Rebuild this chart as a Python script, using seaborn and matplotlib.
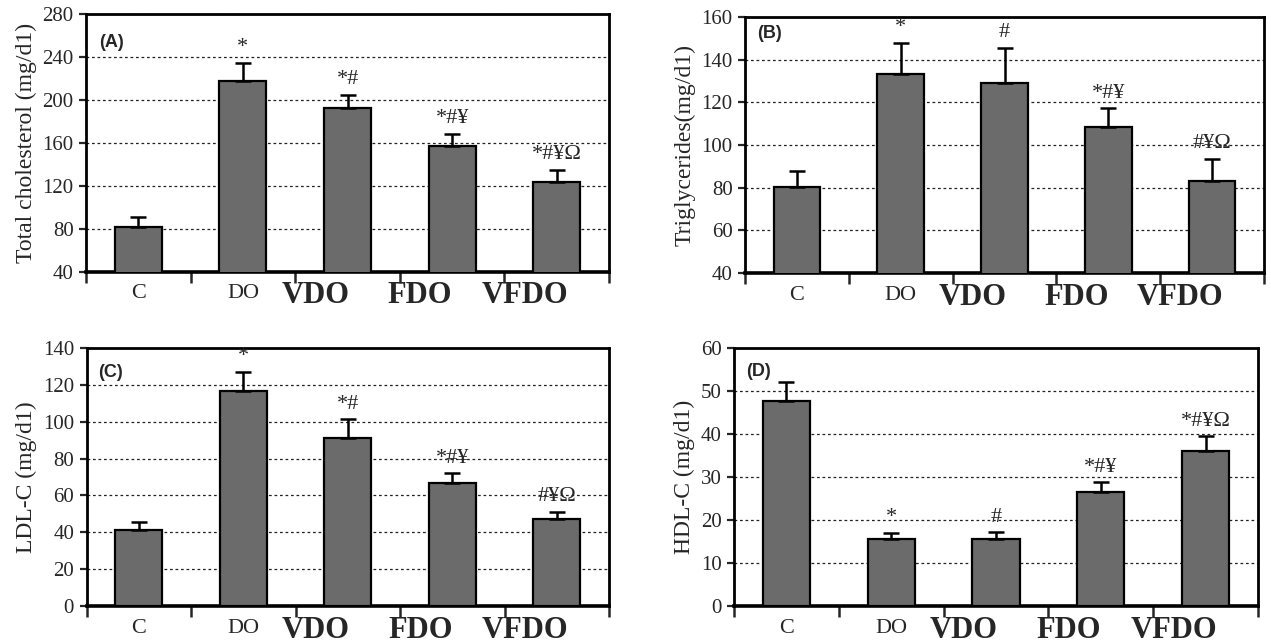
import matplotlib
matplotlib.use("Agg")
import matplotlib.pyplot as plt
import matplotlib.transforms as mtransforms
import numpy as np
import pandas as pd
import seaborn as sns

groups = ["C", "DO", "VDO", "FDO", "VFDO"]

tc_mean = [81.5, 218, 192.5, 157.5, 123.5]
tc_err = [9.5, 16.5, 12.5, 11, 11.5]
tc_sig = ["", "*", "*#", "*#¥", "*#¥Ω"]

tg_mean = [80.5, 133.5, 129, 108.5, 83]
tg_err = [7.5, 14.5, 16.5, 8.7, 10.6]
tg_sig = ["", "*", "#", "*#¥", "#¥Ω"]

ldl_mean = [41.5, 116.5, 91, 66.5, 47]
ldl_err = [4.2, 10.5, 10.3, 5.6, 4.2]
ldl_sig = ["", "*", "*#", "*#¥", "#¥Ω"]

hdl_mean = [47.6, 15.5, 15.5, 26.6, 36.1]
hdl_err = [4.6, 1.6, 1.7, 2.2, 3.4]
hdl_sig = ["", "*", "#", "*#¥", "*#¥Ω"]

panels = [
    ("(A)", "Total cholesterol (mg/d1)", tc_mean, tc_err, tc_sig, (40, 280), 40),
    ("(B)", "Triglycerides(mg/d1)", tg_mean, tg_err, tg_sig, (40, 160), 20),
    ("(C)", "LDL-C (mg/d1)", ldl_mean, ldl_err, ldl_sig, (0, 140), 20),
    ("(D)", "HDL-C (mg/d1)", hdl_mean, hdl_err, hdl_sig, (0, 60), 10),
]

positions = [
    [0.0677, 0.5770, 0.4115, 0.4012],
    [0.5862, 0.5754, 0.4083, 0.3981],
    [0.0681, 0.0575, 0.4111, 0.4012],
    [0.5775, 0.0575, 0.4123, 0.4012],
]
label_pos = [(0.025, 0.888), (0.023, 0.9375), (0.022, 0.907), (0.024, 0.91)]

sns.set_style("ticks")
plt.rcParams["font.family"] = ["Liberation Serif", "DejaVu Serif"]
plt.rcParams["axes.linewidth"] = 2

fig = plt.figure(figsize=(12.71, 6.43), dpi=100)
bar_color = "#6b6b6b"

for (plabel, ylabel, means, errs, sigs, ylim, step), pos, lp in zip(panels, positions, label_pos):
    ax = fig.add_axes(pos)
    df = pd.DataFrame({"group": groups, "value": means})
    sns.barplot(data=df, x="group", y="value", color=bar_color, saturation=1,
                edgecolor="black", linewidth=1.6, width=0.45, ax=ax, zorder=3)
    xs = np.arange(len(groups))
    ax.errorbar(xs, means, yerr=[np.zeros(len(errs)), errs], fmt="none",
                ecolor="black", elinewidth=1.8, capsize=5.5, capthick=1.8, zorder=4)
    for x, m, e, s in zip(xs, means, errs, sigs):
        if s:
            ax.annotate(s, xy=(x, m + e), xytext=(0, 4), textcoords="offset points",
                        ha="center", va="bottom", fontsize=16, zorder=5)
    ax.set_ylim(*ylim)
    ax.set_yticks(np.arange(ylim[0], ylim[1] + step / 2, step))
    ax.set_xlim(-0.5, len(groups) - 0.5)
    ax.yaxis.grid(True, linestyle=(0, (2.2, 2.2)), color="#222222", linewidth=0.9, zorder=0)
    ax.set_axisbelow(True)
    for sp in ax.spines.values():
        sp.set_visible(True)
        sp.set_color("black")
        sp.set_linewidth(2)
    ax.spines["bottom"].set_linewidth(2.6)
    ax.tick_params(axis="y", direction="out", length=5, width=1.6, labelsize=15, pad=4)
    ax.set_xticks(xs)
    ax.set_xticklabels(groups)
    ax.set_xticks(np.arange(-0.5, len(groups), 1.0), minor=True)
    ax.tick_params(axis="x", which="major", length=0, pad=9)
    ax.tick_params(axis="x", which="minor", direction="out", length=8, width=1.8)
    ax.set_xlabel("")
    ax.set_ylabel(ylabel, fontsize=17, labelpad=4)
    for i, lab in enumerate(ax.get_xticklabels()):
        if i < 2:
            lab.set_fontsize(16)
        else:
            lab.set_fontsize(22)
            lab.set_fontweight("bold")
            off = mtransforms.ScaledTranslation(-0.32, 0.03, fig.dpi_scale_trans)
            lab.set_transform(lab.get_transform() + off)
    ax.text(lp[0], lp[1], plabel, transform=ax.transAxes, fontsize=13,
            fontweight="bold", family=["Liberation Sans", "DejaVu Sans"],
            ha="left", va="center", zorder=6)

fig.savefig("out.png", dpi=100)
